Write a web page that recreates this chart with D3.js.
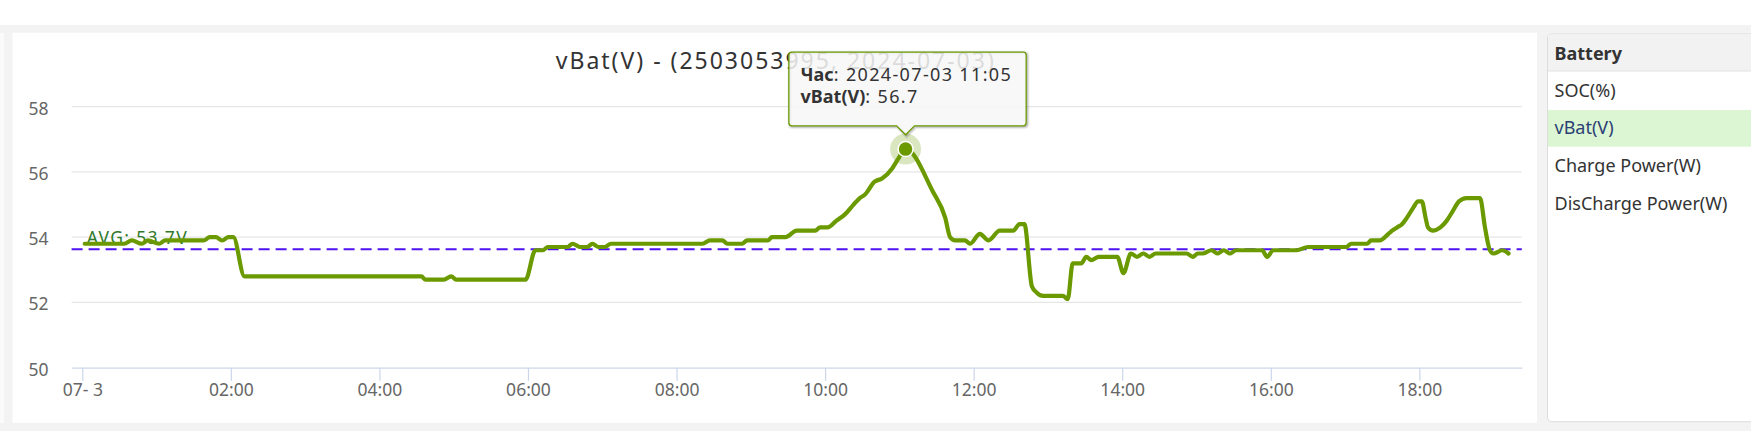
<!DOCTYPE html>
<html><head><meta charset="utf-8">
<script src="https://cdn.jsdelivr.net/npm/d3@7"></script>
<style>
html,body{margin:0;padding:0;background:#fff;}
svg{display:block;}
</style></head><body>
<svg id="c" width="1751" height="431"></svg>
<script>
// ---------- data ----------
const day = "2024-07-03";
const times = ["00:02","00:34","00:40","00:48","00:53","01:02","01:07","01:38","01:43","01:48","01:53","01:58","02:02","02:11",
"04:34","04:37","04:52","04:58","05:02","05:58","06:06","06:12","06:16","06:32","06:36","06:42","06:48","06:52","06:57","07:02","07:07",
"08:21","08:27","08:37","08:41","08:53","08:57","09:14","09:17","09:28","09:37","09:52","09:56","10:02","10:09","10:16","10:23","10:28",
"10:32","10:40","10:46","10:54","10:59","11:05","11:27","11:37","11:41","11:45","11:53","11:57","12:05","12:12","12:21","12:32","12:37","12:41",
"12:47","12:51","12:56","13:12","13:16","13:20","13:27","13:31","13:35","13:41","13:56","14:01","14:07","14:12","14:17","14:22","14:27",
"14:52","14:57","15:01","15:05","15:12","15:17","15:22","15:27","15:32","15:53","15:57","16:02","16:21","16:30","17:01","17:05","17:18",
"17:21","17:28","17:35","17:38","17:42","17:46","17:50","17:55","17:59","18:02","18:05","18:07","18:11","18:17","18:22","18:27","18:32",
"18:38","18:46","18:49","18:53","18:57","19:00","19:07","19:12"];
const vbat = [53.8,53.8,53.9,53.8,53.9,53.8,53.9,53.9,54.0,54.0,53.9,54.0,54.0,52.8,
52.8,52.7,52.7,52.8,52.7,52.7,53.6,53.6,53.7,53.7,53.8,53.7,53.7,53.8,53.7,53.7,53.8,
53.8,53.9,53.9,53.8,53.8,53.9,53.9,54.0,54.0,54.2,54.2,54.3,54.3,54.5,54.7,55.0,55.2,
55.3,55.7,55.8,56.1,56.4,56.7,55.4,54.6,54.0,53.9,53.9,53.8,54.1,53.9,54.2,54.2,54.4,54.4,
52.5,52.3,52.2,52.2,52.1,53.2,53.2,53.4,53.3,53.4,53.4,52.9,53.5,53.4,53.5,53.4,53.5,
53.5,53.4,53.5,53.5,53.6,53.5,53.6,53.5,53.6,53.6,53.4,53.6,53.6,53.7,53.7,53.8,53.8,
53.9,53.9,54.1,54.2,54.3,54.4,54.6,54.9,55.1,55.1,54.6,54.3,54.2,54.3,54.5,54.8,55.1,
55.2,55.2,55.2,54.3,53.6,53.5,53.6,53.5];
const avgValue = 53.63;
const avgLabel = "AVG: 53.7V";
const yTicks = [50, 52, 54, 56, 58];
const xTickTimes = ["00:00","02:00","04:00","06:00","08:00","10:00","12:00","14:00","16:00","18:00"];
const xTickLabels = ["07- 3","02:00","04:00","06:00","08:00","10:00","12:00","14:00","16:00","18:00"];
const xDomain = ["2024-07-02 23:51:22", "2024-07-03 19:22:45"];
const chartTitle = "vBat(V) - (2503053995, 2024-07-03)";
const tooltipTime = "11:05";
const tooltipKey = "Час";
const seriesName = "vBat(V)";
const menuTitle = "Battery";
const menuItems = ["SOC(%)", "vBat(V)", "Charge Power(W)", "DisCharge Power(W)"];
const selectedItem = "vBat(V)";

// ---------- drawing ----------
const parse = d3.timeParse("%Y-%m-%d %H:%M:%S");
const at = t => parse(day + " " + t + ":00");
const data = times.map((t, i) => ({ t: at(t), v: vbat[i] }));

const svg = d3.select("#c");
const FONT = "'Noto Sans', 'Open Sans', sans-serif";

// page background
svg.append("rect").attr("width", 1751).attr("height", 431).attr("fill", "#fff");
svg.append("rect").attr("x", 0).attr("y", 25).attr("width", 1751).attr("height", 406).attr("fill", "#f3f3f3");
svg.append("rect").attr("x", 0).attr("y", 33).attr("width", 4).attr("height", 390).attr("fill", "#fafafa");
// chart panel
svg.append("rect").attr("x", 12.5).attr("y", 32.7).attr("width", 1524.5).attr("height", 390).attr("fill", "#fff");

// right menu panel
const menu = svg.append("g");
menu.append("rect").attr("x", 1547.5).attr("y", 34).attr("width", 230).attr("height", 387.7)
  .attr("rx", 4).attr("fill", "#fff").attr("stroke", "#dcdcdc");
menu.append("rect").attr("x", 1548).attr("y", 34.5).attr("width", 229).attr("height", 36.5).attr("fill", "#f2f2f2");
menu.append("line").attr("x1", 1548).attr("x2", 1751).attr("y1", 71).attr("y2", 71).attr("stroke", "#e2e2e2");
menu.append("text").attr("x", 1554.5).attr("y", 60).text(menuTitle)
  .attr("font-family", FONT).attr("font-size", 18).attr("font-weight", "bold").attr("fill", "#333");
menuItems.forEach((m, i) => {
  if (m === selectedItem) {
    menu.append("rect").attr("x", 1548).attr("y", 110).attr("width", 229).attr("height", 36.7).attr("fill", "#dcf5d3");
  }
  menu.append("text").attr("x", 1554.5).attr("y", 96.7 + i * 37.6).text(m)
    .attr("font-family", FONT).attr("font-size", 18)
    .attr("fill", m === selectedItem ? "#2b3f74" : "#333");
});

// scales
const x = d3.scaleTime().domain(xDomain.map(s => parse(s))).range([71.6, 1521.8]);
const y = d3.scaleLinear().domain([50, 58]).range([367.7, 106.7]);

// grid
svg.append("g").selectAll("line").data(yTicks.filter(v => v !== 50)).join("line")
  .attr("x1", 71.6).attr("x2", 1521.8).attr("y1", d => y(d)).attr("y2", d => y(d))
  .attr("stroke", "#e6e6e6").attr("stroke-width", 1.2);

// y labels
svg.append("g").selectAll("text").data(yTicks).join("text")
  .attr("x", 48.5).attr("y", d => y(d) + 7.8).attr("text-anchor", "end")
  .attr("font-family", FONT).attr("font-size", 17.5).attr("fill", "#666").text(d => d);

// x axis
const xAxis = d3.axisBottom(x).tickValues(xTickTimes.map(at))
  .tickFormat((d, i) => xTickLabels[i]).tickSize(13).tickSizeOuter(0);
const gx = svg.append("g").attr("transform", `translate(0,${y(50)})`).call(xAxis);
gx.select(".domain").attr("stroke", "#ccd6eb").attr("stroke-width", 1.3);
gx.selectAll(".tick line").attr("stroke", "#ccd6eb").attr("stroke-width", 1.2);
gx.selectAll(".tick text").attr("font-family", FONT).attr("font-size", 17.5).attr("fill", "#666")
  .attr("y", 16).attr("dy", "0.71em");

// title
svg.append("text").attr("x", 774.8).attr("y", 69).attr("text-anchor", "middle")
  .attr("font-family", FONT).attr("font-size", 23).attr("fill", "#333")
  .attr("textLength", 438).attr("lengthAdjust", "spacing").text(chartTitle);

// avg line + label
svg.append("line").attr("x1", 71.6).attr("x2", 1521.8).attr("y1", y(avgValue)).attr("y2", y(avgValue))
  .attr("stroke", "#4f12f0").attr("stroke-width", 2).attr("stroke-dasharray", "11,6");
svg.append("text").attr("x", 86.7).attr("y", y(avgValue) - 5.5).text(avgLabel)
  .attr("font-family", FONT).attr("font-size", 17.5).attr("fill", "#2e7a2a")
  .attr("textLength", 100).attr("lengthAdjust", "spacing");

// series
const line = d3.line().x(d => x(d.t)).y(d => y(d.v)).curve(d3.curveMonotoneX);
svg.append("path").datum(data).attr("d", line).attr("fill", "none")
  .attr("stroke", "#6a9a00").attr("stroke-width", 4.2)
  .attr("stroke-linejoin", "round").attr("stroke-linecap", "round");

// hovered point
const hp = data[times.indexOf(tooltipTime)];
const mx = x(hp.t), my = y(hp.v);
svg.append("circle").attr("cx", mx).attr("cy", my).attr("r", 15.5).attr("fill", "#6a9a00").attr("fill-opacity", 0.25);
svg.append("circle").attr("cx", mx).attr("cy", my).attr("r", 7.5).attr("fill", "#6a9a00")
  .attr("stroke", "#fff").attr("stroke-width", 1.5);

// tooltip
const tl = mx - 116.7, tt = my - 97, tw = 237.3, th = 73.7, tip = my - 14.3;
function tipPath(l, t, w, h, px, ty) {
  const r = 3, b = t + h;
  return `M${l + r},${t} H${l + w - r} Q${l + w},${t} ${l + w},${t + r} V${b - r} Q${l + w},${b} ${l + w - r},${b} ` +
    `H${px + 9} L${px},${ty} L${px - 9},${b} H${l + r} Q${l},${b} ${l},${b - r} V${t + r} Q${l},${t} ${l + r},${t} Z`;
}
const tg = svg.append("g");
[5, 3, 1].forEach((sw, i) => {
  tg.append("path").attr("d", tipPath(tl, tt, tw, th, mx, tip)).attr("transform", "translate(1,1)")
    .attr("fill", "none").attr("stroke", "#000").attr("stroke-opacity", 0.05 * (i + 1)).attr("stroke-width", sw);
});
tg.append("path").attr("d", tipPath(tl, tt, tw, th, mx, tip))
  .attr("fill", "rgba(247,247,247,0.86)").attr("stroke", "#6a9a00").attr("stroke-width", 1.3);
const fmtV = d3.format(".1f");
const t1 = tg.append("text").attr("x", tl + 11.7).attr("y", tt + 28.6)
  .attr("font-family", FONT).attr("font-size", 18).attr("fill", "#333").attr("letter-spacing", 1.35);
t1.append("tspan").attr("font-weight", "bold").attr("letter-spacing", 0).text(tooltipKey);
t1.append("tspan").text(": " + day + " " + tooltipTime);
const t2 = tg.append("text").attr("x", tl + 11.7).attr("y", tt + 51.2)
  .attr("font-family", FONT).attr("font-size", 18).attr("fill", "#333").attr("letter-spacing", 1.35);
t2.append("tspan").attr("font-weight", "bold").attr("letter-spacing", 0).text(seriesName);
t2.append("tspan").text(": " + fmtV(hp.v));
</script>
</body></html>
